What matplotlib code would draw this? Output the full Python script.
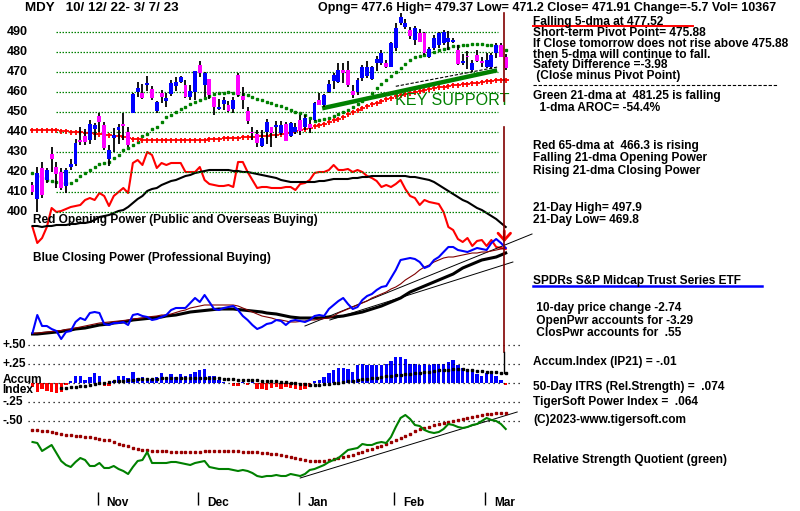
import matplotlib
matplotlib.use("Agg")
import matplotlib.pyplot as plt
from matplotlib.lines import Line2D
import numpy as np

# ---------------- data ----------------
ticker = "MDY"
date_range = "10/ 12/ 22- 3/ 7/ 23"
header_stats = "Opng= 477.6 High= 479.37 Low= 471.2 Close= 471.91 Change=-5.7 Vol= 10367"

opens = [413.5, 406.5, 422.3, 416, 429.2, 422.5, 420, 413.3, 422.8, 424,
         436, 438.2, 436.2, 441.7, 448.2, 443.7, 426.5, 437.2, 441.2, 444,
         440.3, 449.5, 460.3, 459.8, 463.8, 461.5, 450.7, 459.5, 455.8, 459,
         463.2, 465.3, 463.7, 457.8, 460, 473.7, 463.7, 466.7, 457.7, 451.6,
         454.2, 453.7, 451.5, 468.7, 458.2, 450.8, 440, 439.2, 433.3, 440.3,
         442.8, 442.8, 439.5, 444.2, 438.2, 440.3, 446.2, 442.8, 444.3, 446.2,
         456.3, 453.5, 460.3, 465.5, 465.3, 471.2, 471.2, 460.8, 460.3, 467,
         468, 466.5, 474.5, 474.5, 474.5, 472.8, 482, 494.5, 492.5, 491.2,
         486.2, 489.5, 489.5, 477.8, 482, 483.7, 484.5, 485.3, 485.3, 481.2,
         474.8, 478, 471.2, 478.7, 475.8, 472.5, 472.5, 479.8, 483.7, 477.6]
highs = [415, 422.5, 425, 422, 432.5, 425, 422, 422.3, 426.5, 436.5,
         442.8, 441.5, 446.2, 444.5, 449.5, 445.3, 433.7, 442.3, 444, 449.5,
         442.5, 459.8, 465.3, 464.2, 468.3, 463, 455.5, 461, 459.5, 466,
         467.5, 468.3, 466.2, 463.7, 470.8, 475.5, 470, 466.7, 457.8, 456.5,
         457.7, 455.5, 457.8, 469.8, 462.5, 452.7, 442.8, 441.2, 441.2, 446.5,
         442.8, 445.7, 445.7, 445.3, 445.3, 444.5, 448.7, 448.7, 446, 455.3,
         459.5, 459, 466.2, 469.5, 474.5, 474.5, 475.5, 463.7, 467, 473.7,
         475.5, 473, 478, 481, 476, 485, 494.8, 499.5, 496.5, 492.8,
         493.2, 491.5, 490, 482.5, 488.5, 490.3, 491.2, 490.5, 487, 483.7,
         479.3, 480.5, 476.2, 481.2, 477.5, 479.5, 479.5, 484.5, 484.5, 479.37]
lows = [408.5, 400, 407, 414.5, 420, 412, 411, 409.5, 421, 423,
        433.7, 433.7, 434.2, 436, 440, 431, 423.2, 430, 434, 436,
        432.5, 449.5, 457.8, 456.8, 460.5, 456, 449.5, 454.5, 452.8, 458,
        460.8, 464.7, 457, 456, 456, 467.8, 457.8, 456.5, 448.7, 451,
        451, 450.3, 449.7, 457.5, 451.5, 444.2, 436.2, 432.5, 432.5, 434,
        432.8, 437, 438.5, 435.5, 437.8, 439, 438.5, 441, 439.5, 445.7,
        453.5, 452.8, 459.5, 461.5, 464.5, 464.5, 462.5, 457, 458.5, 465.8,
        467, 466, 470.5, 473.5, 472, 472.5, 480.5, 493.5, 491.5, 486.5,
        483.7, 485, 478.5, 477.2, 481, 482.3, 483.5, 481.2, 484.5, 473.7,
        473.5, 471.5, 470.3, 475.3, 472.5, 472, 471.5, 477, 477.5, 471.2]
closes = [410.2, 419.5, 408.7, 421, 426.5, 419, 412.3, 421.2, 424.2, 434.8,
          435.3, 435.3, 444.2, 443.7, 445.2, 432, 431.2, 438.7, 442.8, 443.3,
          433.7, 459.3, 462.4, 457.3, 464.8, 457.3, 455.3, 457.8, 457.3, 464.8,
          465.3, 467.8, 457.8, 460.5, 470.5, 469.5, 469.5, 458.5, 452.8, 452.8,
          456.3, 450.8, 456.3, 458.5, 456.3, 445.7, 439.5, 434.5, 437.3, 445.2,
          439.8, 443.7, 443.7, 435.7, 444.5, 442.8, 440.8, 447.3, 442.2, 454.5,
          453.7, 458.7, 464.2, 468.7, 471, 469.8, 463.7, 458.7, 466.2, 472.5,
          472.5, 472.5, 476.5, 479.5, 472.5, 484.5, 492, 497.8, 494.5, 488.3,
          492, 485.3, 479.5, 481.5, 487, 489.5, 490.3, 487, 486.2, 474.2,
          475.8, 477.5, 474.5, 475.8, 474.5, 476.2, 478.7, 483.7, 477.8, 471.91]

ma21_price = [419.5, 418, 417, 416, 415.5, 415, 414.8, 414.5, 414.5, 416,
              418, 419.5, 421, 422.5, 424, 424.5, 425.3, 427, 428.7, 431,
              432, 433.7, 435.3, 438, 439.2, 441.5, 442.8, 445, 447.5, 448.7,
              450.3, 451.5, 452.8, 454, 455, 456, 457, 458, 459, 459.5,
              459.8, 460.3, 459.7, 459.2, 459, 458.7, 457.8, 456.8, 456, 455.2,
              454.5, 453.8, 453, 452, 451, 450.3, 449.7, 448.7, 447, 445.8,
              446, 446.5, 447, 448, 449, 450, 451, 452.5, 454, 455.5,
              457, 459.5, 462, 464, 466, 468, 470, 472, 474, 476,
              477.8, 478.3, 478.5, 479.5, 480.2, 481, 481.5, 482.3, 483, 483.3,
              483.6, 483.8, 484, 484, 484, 483.8, 483.5, 483, 482.2, 481.25]
ma65_price = [441, 441, 441, 441, 441, 441, 440.8, 440.5, 440.3, 440,
              440, 439.8, 439.5, 439.3, 439, 438.8, 438.5, 438.3, 438, 437.5,
              437, 436.8, 436.5, 436.3, 436.2, 436, 436, 436, 436, 436,
              436, 436, 436, 436, 436, 436.2, 436.3, 436.5, 436.6, 436.8,
              437, 437, 437.2, 437.4, 437.6, 437.8, 437.8, 438, 438, 438.2,
              438.5, 438.8, 439.2, 439.6, 440, 440.5, 441, 441.5, 442.2, 443,
              443.6, 444.3, 445.2, 446, 446.9, 447.9, 449, 450.1, 451.2, 452.2,
              453.1, 454, 454.9, 455.8, 456.6, 457.3, 458, 458.6, 459.2, 459.8,
              460.3, 460.8, 461.3, 461.8, 462.2, 462.6, 462.9, 463.2, 463.5, 463.8,
              464, 464.3, 464.6, 464.9, 465.2, 465.5, 465.8, 466, 466.2, 466.3]

op_power = [23, 7, 12, 23, 42, 38, 39, 41, 43, 44,
            45, 50, 52, 50, 57, 54, 44, 54, 58, 62,
            57, 87, 90, 85, 98, 95, 82, 87, 85, 87,
            87, 87, 78, 78, 78, 83, 70, 66, 65, 64,
            64, 65, 63, 88, 88, 78, 70, 62, 63, 63,
            62, 62, 62, 63, 63, 60, 66, 67, 70, 77,
            78, 78, 80, 85, 80, 80, 81, 78, 80, 78,
            74, 72, 69, 63, 65, 63, 66, 70, 61, 54,
            52, 45, 50, 48, 47, 46, 38, 23, 20, 11,
            8, 12, 4, 9, 10, 4, 10, 3, 2, 1]
op_power_ma = [24, 24, 23, 24, 24, 25, 25, 25, 26, 26,
               27, 27, 28, 30, 33, 34, 35, 37, 39, 40,
               43, 47, 51, 54, 59, 61, 62, 65, 67, 69,
               70, 72, 74, 75, 77, 78, 79, 80, 80, 80,
               80, 80, 79, 79, 78, 78, 77, 76, 75, 74,
               73, 72, 70, 69, 68, 68, 68, 68, 68, 68,
               69, 69, 70, 71, 71, 71, 71, 72, 72, 73,
               73, 74, 74, 74, 74, 74, 74, 74, 74, 73,
               73, 72, 71, 70, 68, 65, 62, 59, 56, 53,
               50, 48, 45, 42, 40, 37, 34, 31, 27, 23]

cp_power = [7, 25, 14, 14, 11, 9, 1, 8, 9, 18,
            22, 20, 27, 28, 27, 16, 15, 17, 17, 18,
            15, 25, 26, 24, 23, 20, 21, 23, 25, 30,
            32, 32, 32, 37, 42, 38, 45, 38, 31, 30,
            32, 33, 34, 30, 24, 20, 15, 11, 13, 16,
            17, 20, 19, 15, 19, 20, 19, 18, 20, 24,
            25, 24, 31, 35, 39, 42, 36, 31, 33, 40,
            44, 46, 50, 53, 54, 62, 70, 80, 81, 82,
            81, 78, 72, 74, 80, 83, 88, 93, 93, 90,
            89, 88, 90, 92, 91, 90, 97, 101, 97, 92]
cp_power_ma21 = [6.5, 7, 7.5, 8, 8.5, 9, 9.5, 10.5, 11, 12,
                 13, 14, 15, 16, 17, 17.5, 18, 18.5, 19, 19.5,
                 20, 21, 21.5, 22, 23, 23.5, 24, 25, 25, 26,
                 27.5, 29, 30, 32, 33, 34, 35, 35, 35, 35,
                 35, 35, 35, 34, 32, 30, 28, 26, 24, 23,
                 22, 20.5, 20, 19, 18, 18, 18.5, 19, 20, 20,
                 21, 21.5, 22, 24, 27, 29, 31, 33, 35, 37,
                 39, 42, 44, 46, 48, 51, 53, 56, 60, 63,
                 66, 70, 73, 75, 78, 80, 82, 83, 83, 84,
                 85, 86, 87, 87, 88, 88, 89, 90, 91, 92]
cp_power_ma65 = [6, 6, 6.5, 7, 7.5, 8, 8.5, 9.5, 10, 11,
                 11.5, 12, 13, 14, 15, 15.5, 16, 17, 17.5, 18,
                 19, 20, 20.5, 21, 21.5, 22, 22.5, 23, 24, 24.5,
                 25, 26, 27, 28, 28.5, 29, 29.5, 30, 30.5, 31,
                 31, 31, 31, 30.5, 30, 29.5, 29, 28.5, 28, 27,
                 26.5, 26, 25, 24, 23, 22.5, 22, 22, 22, 22,
                 22, 22.5, 23, 23, 23.5, 24, 25, 26, 27, 28,
                 29.5, 31, 32.5, 34, 36, 38, 40, 42, 45, 48,
                 50, 52, 54, 56, 58, 60, 62, 64, 66, 69,
                 72, 74, 76, 78, 80, 81, 82, 83, 85, 87]
cp_trend_upper = ([57.0, 104.5], [14, 106])
cp_trend_lower = ([62.2, 100.5], [20, 78])

accum_index = [-0.05, -0.11, -0.08, -0.10, -0.11, -0.13, -0.11, -0.02, 0.03, 0.10,
               0.10, 0.04, 0.08, 0.14, 0.10, -0.035, -0.035, 0.03, 0.10, 0.10,
               0.07, 0.15, 0.07, 0.08, 0.06, 0.06, 0.08, 0.135, 0.08, 0.12,
               0.08, 0.12, 0.10, 0.12, 0.15, 0.175, 0.185, 0.10, 0.09, 0.045,
               0.02, 0.01, -0.035, -0.035, 0.02, -0.02, 0.02, -0.075, -0.075, -0.09,
               -0.06, -0.05, -0.075, -0.05, -0.06, -0.075, -0.09, -0.075, -0.05, 0.03,
               0.045, 0.08, 0.13, 0.175, 0.20, 0.20, 0.185, 0.15, 0.24, 0.26,
               0.24, 0.24, 0.24, 0.24, 0.26, 0.30, 0.34, 0.34, 0.315, 0.26,
               0.26, 0.24, 0.25, 0.24, 0.26, 0.25, 0.26, 0.285, 0.31, 0.24,
               0.20, 0.185, 0.175, 0.12, 0.10, 0.13, 0.15, 0.10, 0.045, -0.02]
accum_ma = [np.nan] * 6 + [
    -0.06, -0.06, -0.055, -0.05, -0.04, -0.035, -0.02, -0.01, 0.005, 0.01,
    0.02, 0.025, 0.03, 0.035, 0.045,
    0.05, 0.053, 0.055, 0.057, 0.06, 0.062, 0.064, 0.067, 0.07, 0.07, 0.07, 0.07, 0.07, 0.07,
    0.07, 0.07, 0.07, 0.067, 0.064, 0.062, 0.057, 0.053, 0.049, 0.046,
    0.043, 0.04, 0.038, 0.035, 0.033, 0.03, 0.025, 0.02, 0.014, 0.009,
    0.004, -0.003, -0.009, -0.016, -0.016, -0.016, -0.012, -0.007, 0.001, 0.009,
    0.017, 0.025, 0.033, 0.043, 0.051, 0.059, 0.067, 0.075, 0.083, 0.09,
    0.096, 0.103, 0.109, 0.116, 0.122, 0.129, 0.136, 0.145, 0.154, 0.162,
    0.17, 0.175, 0.18, 0.184, 0.184, 0.182, 0.178, 0.175, 0.168, 0.162,
    0.155, 0.149, 0.145, 0.141, 0.136]

rs_quotient = [38, 37, 29, 32, 35, 27, 19, 15, 13, 18,
               22, 20, 14, 14, 17, 12, 12, 14, 11, 9,
               6, 13, 19, 20, 28, 17, 17, 17, 17, 18,
               18, 17, 16, 15, 17, 18, 19, 13, 12, 11,
               11, 11, 10, 9, 10, 9, 7, 4, 3, 4,
               4, 5, 4, 4, 6, 5, 4, 6, 10, 11,
               13, 15, 18, 20, 22, 26, 30, 31, 32, 36,
               35, 35, 37, 38, 37, 43, 53, 62, 65, 61,
               55, 54, 50, 48, 47, 48, 51, 56, 55, 53,
               52, 53, 55, 56, 59, 62, 60, 59, 56, 51]
rs_ma = [50, 49.7, 49.2, 48.7, 48, 47, 46, 45.2, 44.7, 44.3,
         44, 43.5, 43, 42.2, 41.4, 40.5, 39.7, 38.2, 36.5, 35.4,
         34, 32.5, 31.2, 30.2, 29.7, 29.3, 29, 28.8, 28.6, 28.4,
         28.2, 28, 28, 28, 28.2, 28.4, 28.6, 28.8, 29, 29,
         29, 29, 29, 28.8, 28.5, 28.2, 27.9, 27.6, 27.3, 27,
         26.5, 25.7, 24.8, 24, 23, 22, 21, 20, 19.2, 19,
         19, 19.5, 20, 21, 22, 23, 24.2, 25.5, 27, 28.5,
         30, 31.5, 32.7, 34, 36, 38, 40, 42, 44, 46.5,
         49, 50.7, 52, 53.5, 54.7, 55.7, 56.7, 58, 59, 60,
         61, 62, 63, 64, 65, 65.7, 66.4, 66.8, 67, 67]
rs_trend = ([56.0, 101.4], [2, 68])

key_support = ([60.6, 97.2], [452.0, 471.0])
key_support_top = ([76.0, 97.2], [463.0, 472.6])

months = ["Nov", "Dec", "Jan", "Feb", "Mar"]
month_start = [14, 35, 56, 76, 95]
price_grid = [400, 410, 420, 430, 440, 450, 460, 470, 480, 490]
accum_grid = [0.5, 0.25, 0.0, -0.25, -0.5]
accum_labels = [("+.50", 0.5), ("+.25", 0.25), ("-.25", -0.25), ("-.50", -0.5)]

right_notes = [
    ("Falling 5-dma at 477.52", 21.5),
    ("Short-term Pivot Point= 475.88", 33),
    ("If Close tomorrow does not rise above 475.88", 44),
    ("then 5-dma will continue to fall.", 54.5),
    ("Safety Difference =-3.98", 65),
    (" (Close minus Pivot Point)", 75.5),
    ("Green 21-dma at  481.25 is falling", 96),
    ("  1-dma AROC= -54.4%", 108),
    ("Red 65-dma at  466.3 is rising", 146),
    ("Falling 21-dma Opening Power", 158),
    ("Rising 21-dma Closing Power", 171),
    ("21-Day High= 497.9", 208),
    ("21-Day Low= 469.8", 219.5),
    ("SPDRs S&P Midcap Trust Series ETF", 281),
    (" 10-day price change -2.74", 308),
    (" OpenPwr accounts for -3.29", 320.5),
    (" ClosPwr accounts for  .55", 332.5),
    ("Accum.Index (IP21) = -.01", 362),
    ("50-Day ITRS (Rel.Strength) =  .074", 387),
    ("TigerSoft Power Index =  .064", 402),
    ("(C)2023-www.tigersoft.com", 420),
    ("Relative Strength Quotient (green)", 460),
]

# ---------------- layout ----------------
W, H = 800, 511
X0, DX = 32.5, 4.78
fig = plt.figure(figsize=(W / 100, H / 100), dpi=100)
fig.patch.set_facecolor("white")
FONT = "Liberation Sans"

def layer(v_top, v_bottom, z):
    a = fig.add_axes([0, 0, 1, 1], zorder=z)
    a.set_xlim(-X0 / DX, (W - X0) / DX)
    a.set_ylim(v_bottom, v_top)
    a.axis("off")
    a.patch.set_alpha(0)
    return a

def ptext(x, y, s, size=8.6, color="black", weight="bold", family=FONT, **kw):
    fig.text(x / W, 1 - y / H, s, fontsize=size, color=color, fontweight=weight,
             family=family, va="center", ha="left", **kw)

def pline(xs, ys, **kw):
    fig.add_artist(Line2D([x / W for x in xs], [1 - y / H for y in ys], **kw))

days = np.arange(len(closes))
last = days[-1]

# price layer: y_px = 32.3 + (490 - p) * 2
ax_p = layer(490 + 32.3 / 2, 490 - (H - 32.3) / 2, 3)
ax_op = layer(250, 250 - H, 2)
ax_cp = layer(340, 340 - H, 2)
ax_ai = layer(383.3 / 76, (383.3 - H) / 76, 2)
ax_rs = layer(480, 480 - H, 2)

# price gridlines
ax_p.hlines(price_grid, 4.9, 97.4, colors="#008000", linewidth=0.9,
            linestyles=(0, (1.2, 1.2)), zorder=1)
for lv in price_grid:
    ax_p.text(-5.4, lv, str(lv), fontsize=9, fontweight="bold", family=FONT,
              va="center", ha="left")

# moving averages on price
ax_p.plot(days, ma21_price, linestyle="none", marker="s", markersize=1.9,
          color="#008000", zorder=2)
ax_p.plot(days, ma65_price, linestyle="none", marker="+", markersize=3.6,
          color="#ff0000", markeredgewidth=1.3, zorder=2)
ax_p.plot(key_support[0], key_support[1], color="#008000", linewidth=3.2,
          solid_capstyle="butt", zorder=4)
ax_p.plot(key_support_top[0], key_support_top[1], color="black", linewidth=0.8,
          linestyle=(0, (3, 1.5)), zorder=5)

# candles
o = np.array(opens); c = np.array(closes)
h = np.array(highs); l = np.array(lows)
up = c >= o
ax_p.vlines(days, l, h, colors="black", linewidth=1.3, zorder=5)
body_lo = np.minimum(o, c)
body_h = np.maximum(np.abs(c - o), 0.6)
ax_p.bar(days, body_h, bottom=body_lo, width=0.82,
         color=np.where(up, "#0000ff", "#ff00ff"), linewidth=0, zorder=6)

ax_p.text(75.9, 455.8, "KEY SUPPORT", fontsize=11.6, color="#008000",
          family=FONT, va="center", ha="left", zorder=7)

# opening power
ax_op.plot(days, op_power, color="#ff0000", linewidth=1.5)
ax_op.plot(days, op_power_ma, color="black", linewidth=1.5)
ax_op.annotate("", xy=(last - 0.3, 5), xytext=(last - 0.3, 22),
               arrowprops=dict(arrowstyle="->,head_length=0.5,head_width=0.45",
                               color="#ff0000", lw=2))

# closing power
ax_cp.plot(cp_trend_upper[0], cp_trend_upper[1], color="black", linewidth=0.7)
ax_cp.plot(cp_trend_lower[0], cp_trend_lower[1], color="black", linewidth=0.7)
ax_cp.plot(days, cp_power_ma65, color="black", linewidth=2.2)
ax_cp.plot(days, cp_power_ma21, color="#800000", linewidth=0.8)
ax_cp.plot(days, cp_power, color="#0000ff", linewidth=1.5)

# accumulation index
ax_ai.hlines(accum_grid, -0.9, 102.5, colors="black", linewidth=0.9,
             linestyles=(0, (1, 3)))
ai = np.array(accum_index)
ax_ai.bar(days, ai, width=0.7, color=np.where(ai >= 0, "#0000ff", "#ff0000"),
          linewidth=0)
ax_ai.plot(days, accum_ma, linestyle="none", marker="s", markersize=1.6,
           color="black")
for lab, v in accum_labels:
    ax_ai.text(-6.2, v, lab, fontsize=8.6, fontweight="bold", family=FONT,
               va="center", ha="left")
ax_ai.text(-6.3, 0.05, "Accum", fontsize=8.6, fontweight="bold", family=FONT,
           va="center", ha="left")
ax_ai.text(-6.3, -0.09, "Index", fontsize=8.6, fontweight="bold", family=FONT,
           va="center", ha="left")

# relative strength
ax_rs.plot(rs_trend[0], rs_trend[1], color="black", linewidth=0.7)
ax_rs.plot(days, rs_ma, linestyle="none", marker="s", markersize=1.9,
           color="#990000")
ax_rs.plot(days, rs_quotient, color="#008000", linewidth=1.5)

# month ticks
for m, s in zip(months, month_start):
    ax_rs.vlines(s - 0.3, 480 - 505, 480 - 492, colors="black", linewidth=1)
    ax_rs.text(s + 1.5, 480 - 503, m, fontsize=8.6, fontweight="bold",
               family=FONT, va="center", ha="left")

# vertical marker on the last day
for a0, a1 in [(13, 101), (127, 352)]:
    ax_p.axvline(last - 0.3, ymin=1 - a1 / H, ymax=1 - a0 / H, color="#800000",
                 linewidth=1.2, zorder=8)
ax_p.axvline(last - 0.3, ymin=1 - 373 / H, ymax=1 - 352 / H, color="black",
             linewidth=1.0, zorder=8)

# texts
ptext(25, 8, ticker + "   " + date_range, size=9.6)
ptext(318, 8, header_stats, size=9.0)
ptext(33, 220, "Red Opening Power (Public and Overseas Buying)")
ptext(33, 258, "Blue Closing Power (Professional Buying)")
for s, y in right_notes:
    ptext(533, y, s)
pline([533, 693], [26.5, 26.5], color="#ff0000", linewidth=1.4)
pline([533, 777], [85, 85], color="black", linewidth=0.8, linestyle=(0, (3, 1.6)))
pline([533, 762], [285.5, 285.5], color="#0000ff", linewidth=1.8)

fig.savefig("out.png", dpi=100)
